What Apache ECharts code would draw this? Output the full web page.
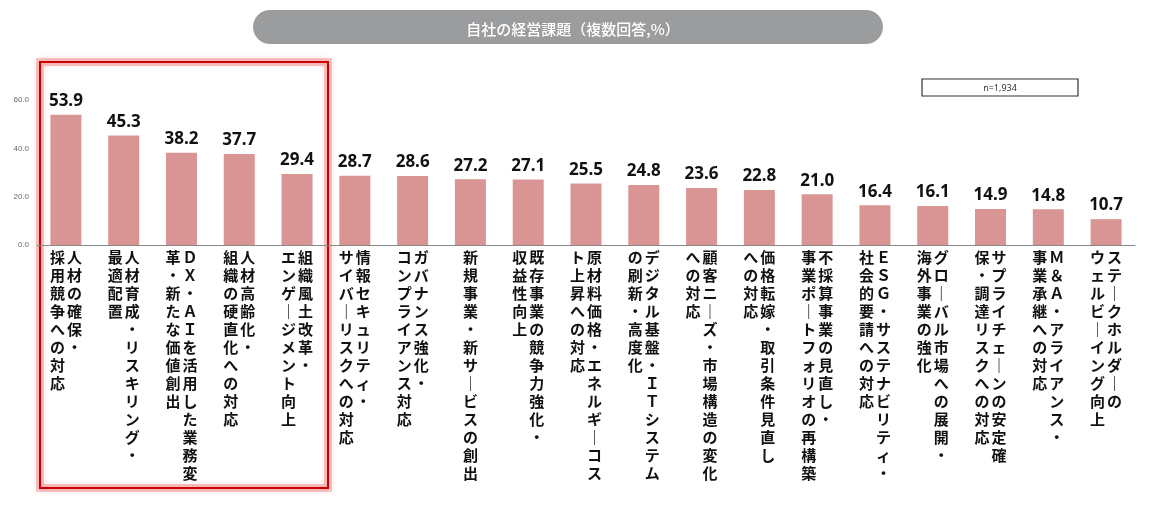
<!DOCTYPE html>
<html>
<head>
<meta charset="utf-8">
<script src="https://cdn.jsdelivr.net/npm/echarts@6/dist/echarts.min.js"></script>
<style>
  html, body { margin: 0; padding: 0; background: #fff; }
  #chart { width: 1150px; height: 510px; }
</style>
</head>
<body>
<div id="chart"></div>
<script>
// 縦書きラベル：1列目（右）
const labelColA = [
  '人材の確保・',
  '人材育成・リスキリング・',
  'ＤＸ・ＡＩを活用した業務変',
  '人材高齢化・',
  '組織風土改革・',
  '情報セキュリティ・',
  'ガバナンス強化・',
  '新規事業・新サービスの創出',
  '既存事業の競争力強化・',
  '原材料価格・エネルギーコス',
  'デジタル基盤・ＩＴシステム',
  '顧客ニーズ・市場構造の変化',
  '価格転嫁・取引条件見直し',
  '不採算事業の見直し・',
  'ＥＳＧ・サステナビリティ・',
  'グローバル市場への展開・',
  'サプライチェーンの安定確',
  'Ｍ＆Ａ・アライアンス・',
  'ステークホルダーの'
];
// 縦書きラベル：2列目（左）
const labelColB = [
  '採用競争への対応',
  '最適配置',
  '革・新たな価値創出',
  '組織の硬直化への対応',
  'エンゲージメント向上',
  'サイバーリスクへの対応',
  'コンプライアンス対応',
  '',
  '収益性向上',
  'ト上昇への対応',
  'の刷新・高度化',
  'への対応',
  'への対応',
  '事業ポートフォリオの再構築',
  '社会的要請への対応',
  '海外事業の強化',
  '保・調達リスクへの対応',
  '事業承継への対応',
  'ウェルビーイング向上'
];
const categories = labelColA.map((a, i) => a + labelColB[i]);
const values = [53.9, 45.3, 38.2, 37.7, 29.4, 28.7, 28.6, 27.2, 27.1, 25.5, 24.8, 23.6, 22.8, 21.0, 16.4, 16.1, 14.9, 14.8, 10.7];
const sampleNote = 'n=1,934';
const chartTitle = '自社の経営課題（複数回答,%）';

// 縦書き用の字形
const verticalForms = { 'ー': '｜' };
function toVertical(ch) {
  return verticalForms[ch] || ch;
}

// 1文字ずつ改行して縦書き風にする
function verticalLabel(index) {
  const a = Array.from(labelColA[index]);
  const b = Array.from(labelColB[index]);
  const n = Math.max(a.length, b.length);
  const rows = [];
  for (let k = 0; k < n; k++) {
    const right = a[k] ? toVertical(a[k]) : '　';
    if (b.length) {
      const left = b[k] ? toVertical(b[k]) : '　';
      rows.push(`{c|${left}}{c|${right}}`);
    } else {
      rows.push(`{c|${right}}`);
    }
  }
  return rows.join('\n');
}

const chart = echarts.init(document.getElementById('chart'));
const option = {
  backgroundColor: '#fff',
  animation: false,
  title: {
    text: chartTitle,
    left: 568,
    top: 17,
    textAlign: 'center',
    textStyle: {
      color: '#fff',
      fontSize: 15,
      fontWeight: 500,
      fontFamily: 'Noto Sans CJK JP'
    }
  },
  grid: {
    left: 37,
    right: 15,
    top: 100,
    bottom: 265
  },
  xAxis: {
    type: 'category',
    data: categories,
    axisLine: { lineStyle: { color: '#888', width: 1 } },
    axisTick: { show: false },
    axisLabel: {
      interval: 0,
      margin: 3,
      formatter: (value, index) => verticalLabel(index),
      rich: {
        c: {
          width: 17,
          align: 'center',
          fontSize: 15,
          lineHeight: 18,
          fontWeight: 'bold',
          color: '#111',
          fontFamily: 'Noto Sans CJK JP'
        }
      }
    }
  },
  yAxis: {
    type: 'value',
    min: 0,
    max: 60,
    interval: 20,
    axisLine: { show: false },
    axisTick: { show: false },
    splitLine: { show: false },
    axisLabel: {
      fontSize: 8,
      color: '#666',
      margin: 8,
      formatter: v => v.toFixed(1)
    }
  },
  series: [
    {
      type: 'bar',
      data: values,
      barWidth: 31,
      itemStyle: { color: '#d99594' },
      label: {
        show: true,
        position: 'top',
        distance: 5,
        fontSize: 17,
        fontWeight: 'bold',
        color: '#111',
        fontFamily: 'Noto Sans',
        formatter: p => p.value.toFixed(1)
      }
    }
  ],
  graphic: [
    {
      type: 'rect',
      z: -1,
      shape: { x: 253, y: 10, width: 630, height: 34, r: 17 },
      style: { fill: '#9b9c9e' }
    },
    {
      type: 'rect',
      shape: { x: 922, y: 79, width: 156, height: 17 },
      style: { fill: '#fff', stroke: '#333', lineWidth: 1.2 }
    },
    {
      type: 'text',
      x: 1000,
      y: 88,
      style: {
        text: sampleNote,
        fontSize: 9,
        fill: '#333',
        align: 'center',
        verticalAlign: 'middle',
        fontFamily: 'Noto Sans'
      }
    },
    // 赤枠のぼかし
    {
      type: 'rect',
      shape: { x: 40, y: 62, width: 288, height: 426 },
      style: {
        fill: 'none',
        stroke: 'rgba(240, 140, 140, 0.45)',
        lineWidth: 8
      }
    },
    {
      type: 'rect',
      shape: { x: 40, y: 62, width: 288, height: 426 },
      style: {
        fill: 'none',
        stroke: '#cc0000',
        lineWidth: 2,
        shadowBlur: 6,
        shadowColor: 'rgba(235, 90, 90, 0.8)'
      }
    }
  ]
};
chart.setOption(option);

window.addEventListener('resize', () => chart.resize());
</script>
</body>
</html>
